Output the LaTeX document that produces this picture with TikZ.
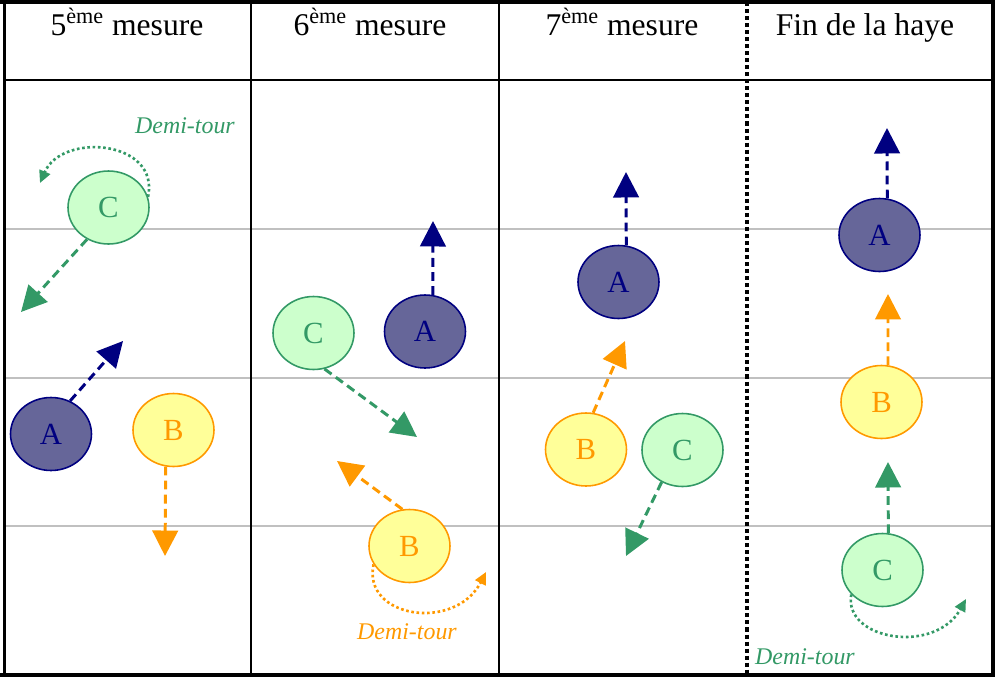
\documentclass[tikz,border=0pt]{standalone}
\usepackage{fontspec}
\setmainfont{Liberation Serif}
\usepackage{tikz}
\usepackage{xcolor}
\usetikzlibrary{shapes,arrows.meta}
\definecolor{navyA}{HTML}{000080}
\definecolor{fillA}{HTML}{666699}
\definecolor{orangeB}{HTML}{FF9900}
\definecolor{fillB}{HTML}{FFFF99}
\definecolor{greenC}{HTML}{339966}
\definecolor{fillC}{HTML}{CCFFCC}
\definecolor{grille}{HTML}{C0C0C0}
\begin{document}
\begin{tikzpicture}[x=0.02cm,y=-0.02cm]
		\tikzstyle{pers}=[ellipse,minimum width=1.62cm,minimum height=1.46cm,inner sep=0pt,line width=0.9pt,font=\fontsize{17.5}{20}\selectfont]
		\tikzstyle{persA}=[pers,draw=navyA,fill=fillA,text=navyA]
		\tikzstyle{persB}=[pers,draw=orangeB,fill=fillB,text=orangeB]
		\tikzstyle{persC}=[pers,draw=greenC,fill=fillC,text=greenC]
		\tikzstyle{move}=[line width=1.7pt,dash pattern=on 5pt off 3pt,-{Triangle[length=14.5pt,width=14.5pt]}]
		\tikzstyle{turn}=[line width=1.5pt,dash pattern=on 1.5pt off 1.5pt,-{Triangle[length=7pt,width=6.5pt]}]
		\tikzstyle{titre}=[anchor=base,font=\fontsize{18}{21}\selectfont]
		\tikzstyle{demi}=[font=\fontsize{13.6}{16}\selectfont\itshape]
		\tikzstyle{trait}=[line width=1.3pt]
		
		\useasboundingbox (0,0) rectangle (995,677);
		\draw[grille,line width=0.8pt] (4,229) -- (992,229) (4,378) -- (992,378) (4,526) -- (992,526);
		
		\node [titre] (h5) at (127,35) {5\textsuperscript{ème} mesure};
		\node [titre] (h6) at (370,35) {6\textsuperscript{ème} mesure};
		\node [titre] (h7) at (622,35) {7\textsuperscript{ème} mesure};
		\node [titre] (h8) at (865,35) {Fin de la haye};
		
		\node [persC] (C5) at (108.5,207.5) {C};
		\node [persA] (A5) at (51,434) {A};
		\node [persB] (B5) at (173.5,430) {B};
		\node [demi,text=greenC] (d5) at (185,126) {Demi-tour};
		\coordinate (tC5) at (21,312);
		\coordinate (tA5) at (123,341);
		\coordinate (tB5) at (165,556);
		\coordinate (tT5) at (40,183);
		\draw[move,greenC] (C5.236) -- (tC5);
		\draw[move,navyA] (A5.60) -- (tA5);
		\draw[move,orangeB] (B5.258) -- (tB5);
		\draw[turn,greenC] (C5.15) .. controls (160,140) and (62,132) .. (tT5);
		
		\node [persC] (C6) at (313.5,333) {C};
		\node [persA] (A6) at (425,331.5) {A};
		\node [persB] (B6) at (409.5,546) {B};
		\node [demi,text=orangeB] (d6) at (407,632) {Demi-tour};
		\coordinate (tC6) at (417,437);
		\coordinate (tA6) at (433,221);
		\coordinate (tB6) at (337,461);
		\coordinate (tT6) at (486,572);
		\draw[move,greenC] (C6.287) -- (tC6);
		\draw[move,navyA] (A6.78) -- (tA6);
		\draw[move,orangeB] (B6.101) -- (tB6);
		\draw[turn,orangeB] (B6.207) .. controls (362,618) and (455,632) .. (tT6);
		
		\node [persA] (A7) at (618.5,282) {A};
		\node [persB] (B7) at (586,449.5) {B};
		\node [persC] (C7) at (682.5,450) {C};
		\coordinate (tA7) at (626,172);
		\coordinate (tB7) at (625,341);
		\coordinate (tC7) at (626,556);
		\draw[move,navyA] (A7.78) -- (tA7);
		\draw[move,orangeB] (B7.79) -- (tB7);
		\draw[move,greenC] (C7.237) -- (tC7);
		
		\node [persA] (A8) at (879.5,235) {A};
		\node [persB] (B8) at (881.5,402) {B};
		\node [persC] (C8) at (882.5,570) {C};
		\node [demi,text=greenC] (d8) at (805,657) {Demi-tour};
		\coordinate (tA8) at (887,128);
		\coordinate (tB8) at (888,294);
		\coordinate (tC8) at (888,462);
		\coordinate (tT8) at (966,599);
		\draw[move,navyA] (A8.78) -- (tA8);
		\draw[move,orangeB] (B8.80) -- (tB8);
		\draw[move,greenC] (C8.81) -- (tC8);
		\draw[turn,greenC] (C8.218) .. controls (843,640) and (935,655) .. (tT8);
		
		\draw[trait] (4,80) -- (993,80);
		\draw[trait] (251,2) -- (251,675) (499,2) -- (499,675);
		\draw[line width=2.3pt,dash pattern=on 2.3pt off 1.7pt] (747,2) -- (747,675);
		\draw[line width=1.5pt] (4.3,0) -- (4.3,677);
		\draw[line width=2.3pt] (0,2) -- (995,2) (0,675) -- (995,675) (993,0) -- (993,677);
\end{tikzpicture}
\end{document}
